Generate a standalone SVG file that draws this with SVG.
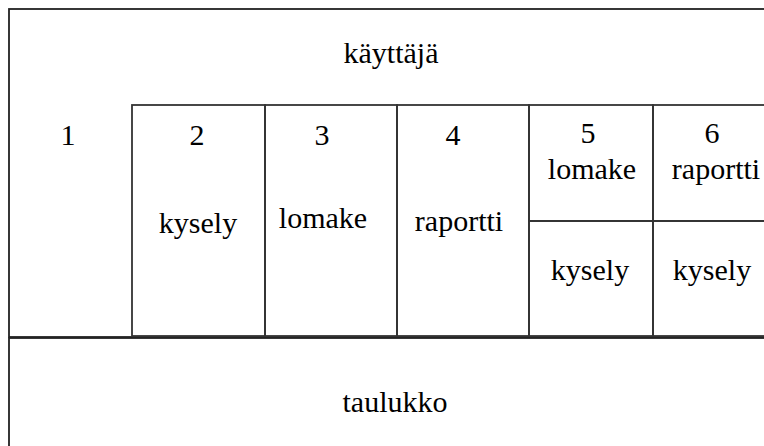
<svg xmlns="http://www.w3.org/2000/svg" width="764" height="446" viewBox="0 0 764 446">
<style>
.box{fill:none;stroke:#222;stroke-width:1.8}
.cell{fill:none;stroke:#333;stroke-width:1.8}
.t{font-family:'Liberation Serif','Times New Roman',serif;font-size:30px;fill:#000;text-anchor:middle}
</style>
<rect width="764" height="446" fill="#fff"/>
<g id="kayttaja">
<rect class="box" x="9" y="9" width="800" height="328"/>
<text class="t" x="391" y="63">käyttäjä</text>
</g>
<g id="col1">
<text class="t" x="68" y="145">1</text>
</g>
<g id="col2">
<rect class="cell" x="132" y="105" width="133" height="231"/>
<text class="t" x="197" y="145">2</text>
<text class="t" x="198" y="233">kysely</text>
</g>
<g id="col3">
<rect class="cell" x="265" y="105" width="132" height="231"/>
<text class="t" x="322" y="145">3</text>
<text class="t" x="323" y="228">lomake</text>
</g>
<g id="col4">
<rect class="cell" x="397" y="105" width="132" height="231"/>
<text class="t" x="453" y="145">4</text>
<text class="t" x="459" y="231">raportti</text>
</g>
<g id="col5">
<rect class="cell" x="529" y="105" width="124" height="116"/>
<text class="t" x="588" y="143">5</text>
<text class="t" x="592" y="179">lomake</text>
<rect class="cell" x="529" y="221" width="124" height="115"/>
<text class="t" x="590" y="280">kysely</text>
</g>
<g id="col6">
<rect class="cell" x="653" y="105" width="150" height="116"/>
<text class="t" x="712" y="143">6</text>
<text class="t" x="716" y="179">raportti</text>
<rect class="cell" x="653" y="221" width="150" height="115"/>
<text class="t" x="712" y="280">kysely</text>
</g>
<g id="taulukko">
<rect class="box" x="9" y="338" width="800" height="200"/>
<text class="t" x="395" y="412">taulukko</text>
</g>
<g id="connectors"></g>
</svg>
